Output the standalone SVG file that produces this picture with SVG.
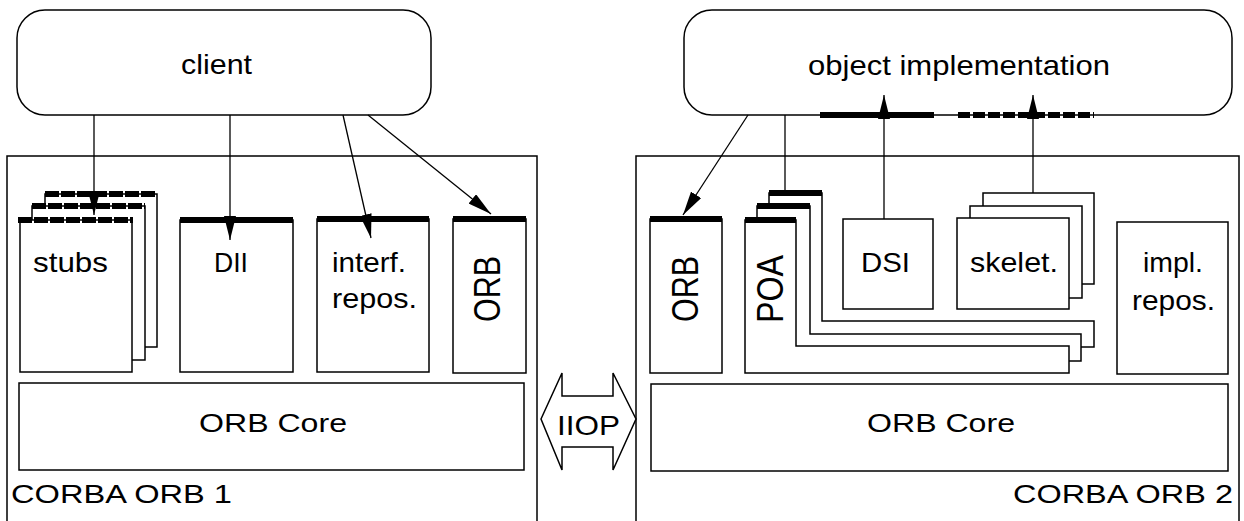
<svg xmlns="http://www.w3.org/2000/svg" width="1244" height="521" viewBox="0 0 1244 521">
<style>
.box{fill:#fff;stroke:#000;stroke-width:1.5}
.frame{fill:none;stroke:#000;stroke-width:1.5}
.bar{stroke:#000;stroke-width:6;fill:none}
.dbar{stroke:#000;stroke-width:6;fill:none;stroke-dasharray:14 2}
.t{font-family:"Liberation Sans",Arial,sans-serif;font-size:28px;fill:#000}
.s{font-size:26px}
.c{stroke:#000;stroke-width:1.3;fill:none}
</style>
<defs>
<marker id="ah" markerUnits="userSpaceOnUse" markerWidth="24" markerHeight="12" refX="24" refY="6" orient="auto">
<path d="M0,0 L24,6 L0,12 z" fill="#000"/>
</marker>
</defs>
<rect width="1244" height="521" fill="#fff"/>

<g id="orb1-frame">
<rect class="frame" x="7" y="156" width="530" height="400"/>
<text class="t s" x="11" y="503" textLength="221" lengthAdjust="spacingAndGlyphs">CORBA ORB 1</text>
</g>
<g id="orb2-frame">
<rect class="frame" x="636" y="156" width="603" height="400"/>
<text class="t s" x="1013" y="503" textLength="220" lengthAdjust="spacingAndGlyphs">CORBA ORB 2</text>
</g>

<g id="client">
<rect class="box" x="17" y="10" width="414" height="105" rx="28"/>
<text class="t" x="181" y="74" font-size="29" textLength="71" lengthAdjust="spacingAndGlyphs">client</text>
</g>

<g id="object-implementation">
<rect class="box" x="684" y="10" width="548" height="105" rx="28"/>
<text class="t" x="808" y="75" font-size="29" textLength="302" lengthAdjust="spacingAndGlyphs">object implementation</text>
<line class="bar" x1="820" y1="115" x2="934" y2="115"/>
<line class="dbar" x1="958" y1="115" x2="1094" y2="115" style="stroke-dasharray:12 3"/>
</g>

<g id="stubs">
<rect class="box" x="45" y="194" width="112" height="153"/>
<line class="dbar" x1="45" y1="194" x2="157" y2="194"/>
<rect class="box" x="32" y="206" width="113" height="154"/>
<line class="dbar" x1="32" y1="206" x2="145" y2="206"/>
<rect class="box" x="20" y="220" width="112" height="152"/>
<line class="dbar" x1="18" y1="220" x2="133" y2="220"/>
<text class="t" x="33" y="272" textLength="75" lengthAdjust="spacingAndGlyphs">stubs</text>
</g>

<g id="dii">
<rect class="box" x="180" y="220" width="113" height="152"/>
<line class="bar" x1="180" y1="220" x2="293" y2="220"/>
<text class="t" x="214" y="272" textLength="34" lengthAdjust="spacingAndGlyphs">DII</text>
</g>

<g id="interf-repos">
<rect class="box" x="317" y="219" width="112" height="153"/>
<line class="bar" x1="317" y1="219" x2="429" y2="219"/>
<text class="t" x="332" y="272" textLength="74" lengthAdjust="spacingAndGlyphs">interf.</text>
<text class="t" x="332" y="308" textLength="85" lengthAdjust="spacingAndGlyphs">repos.</text>
</g>

<g id="orb-left">
<rect class="box" x="453" y="219" width="73" height="154"/>
<line class="bar" x1="453" y1="219" x2="526" y2="219"/>
<text class="t" transform="translate(500,322) scale(1.3,1) rotate(-90)" x="0" y="0" textLength="66" lengthAdjust="spacingAndGlyphs">ORB</text>
</g>

<g id="orb-core-left">
<rect class="box" x="19" y="383" width="505" height="87"/>
<text class="t s" x="199" y="432" textLength="148" lengthAdjust="spacingAndGlyphs">ORB Core</text>
</g>

<g id="iiop">
<polygon class="box" points="541,419 562,373 562,396 613,396 613,373 636,419 613,470 613,447 562,447 562,470"/>
<text class="t" x="557" y="435" textLength="63" lengthAdjust="spacingAndGlyphs">IIOP</text>
</g>

<g id="orb-right">
<rect class="box" x="650" y="219" width="72" height="154"/>
<line class="bar" x1="650" y1="219" x2="722" y2="219"/>
<text class="t" transform="translate(698,322) scale(1.3,1) rotate(-90)" x="0" y="0" textLength="66" lengthAdjust="spacingAndGlyphs">ORB</text>
</g>

<g id="poa">
<polygon class="box" points="769,193 822,193 822,321 1094,321 1094,347 769,347"/>
<line class="bar" x1="769" y1="193" x2="822" y2="193"/>
<polygon class="box" points="757,206 810,206 810,334 1081,334 1081,361 757,361"/>
<line class="bar" x1="757" y1="206" x2="810" y2="206"/>
<polygon class="box" points="745,220 796,220 796,346 1069,346 1069,373 745,373"/>
<line class="bar" x1="745" y1="220" x2="796" y2="220"/>
<text class="t" transform="translate(783,323) scale(1.3,1) rotate(-90)" x="0" y="0" textLength="68" lengthAdjust="spacingAndGlyphs">POA</text>
</g>

<g id="dsi">
<rect class="box" x="843" y="219" width="90" height="90"/>
<text class="t" x="861" y="272" font-size="30" textLength="49" lengthAdjust="spacingAndGlyphs">DSI</text>
</g>

<g id="skeletons">
<rect class="box" x="983" y="193" width="111" height="91"/>
<rect class="box" x="970" y="206" width="112" height="92"/>
<rect class="box" x="957" y="218" width="112" height="91"/>
<text class="t" x="970" y="272" textLength="88" lengthAdjust="spacingAndGlyphs">skelet.</text>
</g>

<g id="impl-repos">
<rect class="box" x="1117" y="222" width="111" height="152"/>
<text class="t" x="1143" y="272" textLength="60" lengthAdjust="spacingAndGlyphs">impl.</text>
<text class="t" x="1132" y="310" textLength="83" lengthAdjust="spacingAndGlyphs">repos.</text>
</g>

<g id="orb-core-right">
<rect class="box" x="651" y="384" width="577" height="87"/>
<text class="t s" x="867" y="432" textLength="148" lengthAdjust="spacingAndGlyphs">ORB Core</text>
</g>

<g id="connectors">
<line class="c" x1="94" y1="115" x2="94" y2="215" marker-end="url(#ah)"/>
<line class="c" x1="230" y1="115" x2="230" y2="240" marker-end="url(#ah)"/>
<line class="c" x1="343" y1="115" x2="371" y2="238" marker-end="url(#ah)"/>
<line class="c" x1="368" y1="115" x2="491" y2="214" marker-end="url(#ah)"/>
<line class="c" x1="748" y1="115" x2="683" y2="215" marker-end="url(#ah)"/>
<line class="c" x1="785" y1="115" x2="785" y2="190"/>
<line class="c" x1="884" y1="219" x2="884" y2="95" marker-end="url(#ah)"/>
<line class="c" x1="1033" y1="193" x2="1033" y2="95" marker-end="url(#ah)"/>
</g>
</svg>
